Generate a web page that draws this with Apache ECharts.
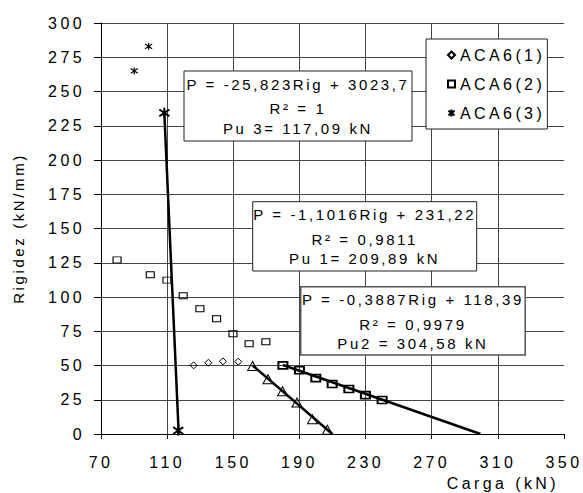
<!DOCTYPE html>
<html><head><meta charset="utf-8">
<script src="https://cdn.jsdelivr.net/npm/echarts@6/dist/echarts.min.js"></script>
<style>
html,body{margin:0;padding:0;background:#fff;}
#c{width:583px;height:493px;}
#c svg text[style*="16px"]{letter-spacing:3.4px;}
#c svg text[style*="15px"]{letter-spacing:2.6px;}
</style></head><body><div id="c"></div>
<script>
// ---- data ----
const xMin = 70, xMax = 350, xStep = 40;
const yMin = 0, yMax = 300, yStep = 25;

const aca1Carga = [126.0, 134.9, 143.7, 153.0];
const aca1Rig   = [50.1, 52.0, 53.0, 52.8];
const aca1TendCarga = [161.7, 171.0, 179.8, 188.5, 197.9, 206.9];
const aca1TendRig   = [49.6, 40.0, 31.2, 23.0, 10.7, 3.1];

const aca2Carga = [79.7, 99.8, 109.9, 119.7, 129.8, 139.9, 149.8, 159.6, 169.7];
const aca2Rig   = [127.1, 116.2, 112.3, 100.9, 91.4, 84.1, 73.2, 65.9, 67.3];
const aca2TendCarga = [180.0, 190.0, 199.9, 209.8, 219.9, 229.9, 240.0];
const aca2TendRig   = [50.1, 46.5, 40.8, 36.5, 32.8, 28.4, 24.8];

const aca3Carga = [90.1, 98.8];
const aca3Rig   = [265.0, 283.0];
const aca3TendCarga = [108.3, 116.7];
const aca3TendRig   = [234.4, 2.5];

const reta1Carga = [161.7, 209.89];
const reta1Rig   = [50.0, 0];
const reta2Carga = [180.0, 299.5];
const reta2Rig   = [50.4, 0];
const reta3Carga = [108.3, 117.0];
const reta3Rig   = [234.4, 0];

const seriesNames = ['ACA6(1)', 'ACA6(2)', 'ACA6(3)'];
const box3Lines = ['P = -25,823Rig + 3023,7', 'R² = 1', 'Pu 3= 117,09 kN'];
const box1Lines = ['P = -1,1016Rig + 231,22', 'R² = 0,9811', 'Pu 1= 209,89 kN'];
const box2Lines = ['P = -0,3887Rig + 118,39', 'R² = 0,9979', 'Pu2 = 304,58 kN'];
const xName = 'Carga (kN)';
const yName = 'Rigidez (kN/mm)';

// ---- helpers ----
const zip = (a, b) => a.map((v, i) => [v, b[i]]);
const FONT = 'Liberation Sans';
const ASTER = 'path://M5 0L5 10M0.6 1.6L9.4 8.4M0.6 8.4L9.4 1.6';
const clear = 'rgba(0,0,0,0)';

function boxGraphic(x, y, w, h, lines, stroke, lw) {
  const cx = x + w / 2;
  const offs = [13, 37.5, 57];
  const els = [{
    type: 'rect', z: 50,
    shape: { x: x, y: y, width: w, height: h },
    style: { fill: '#fff', stroke: stroke, lineWidth: lw }
  }];
  lines.forEach((t, i) => els.push({
    type: 'text', z: 51, x: cx, y: y + offs[i],
    style: { text: t, fill: '#000', fontSize: 15, fontFamily: FONT, align: 'center', verticalAlign: 'middle' }
  }));
  return els;
}

const chart = echarts.init(document.getElementById('c'), null, { renderer: 'svg' });
const option = {
  animation: false,
  backgroundColor: '#fff',
  grid: { left: 101, right: 19, top: 23, bottom: 59, containLabel: false, outerBoundsMode: 'none' },
  xAxis: {
    type: 'value', min: xMin, max: xMax, interval: xStep,
    name: xName, nameLocation: 'end', nameGap: -5, nameMoveOverlap: false,
    nameTextStyle: { fontSize: 16, fontFamily: FONT, color: '#000', align: 'right', verticalAlign: 'top', padding: [41, 0, 0, 0] },
    axisLine: { show: true, onZero: false, lineStyle: { color: '#000', width: 1 } },
    axisTick: { show: true, length: 5, lineStyle: { color: '#000' } },
    axisLabel: { fontSize: 16, fontFamily: FONT, color: '#000', margin: 20, interval: 0 },
    splitLine: { show: true, showMaxLine: false, lineStyle: { color: '#444', width: 1 } }
  },
  yAxis: {
    type: 'value', min: yMin, max: yMax, interval: yStep,
    name: yName, nameLocation: 'middle', nameGap: 75, nameMoveOverlap: false,
    nameTextStyle: { fontSize: 15, fontFamily: FONT, color: '#000' },
    axisLine: { show: true, onZero: false, lineStyle: { color: '#000', width: 1 } },
    axisTick: { show: true, length: 7, lineStyle: { color: '#000' } },
    axisLabel: { fontSize: 16, fontFamily: FONT, color: '#000', margin: 16 },
    splitLine: { show: true, lineStyle: { color: '#444', width: 1 } }
  },
  legend: {
    data: seriesNames, orient: 'vertical', left: 426, top: 39,
    padding: [8, 26, 8, 21], itemGap: 13, itemWidth: 7, itemHeight: 7,
    backgroundColor: '#fff', borderColor: '#222', borderWidth: 1,
    textStyle: { fontSize: 16, fontFamily: FONT, color: '#000', lineHeight: 16 },
    selectedMode: false, z: 60
  },
  graphic: [].concat(
    boxGraphic(184, 71, 228, 70, box3Lines, '#222', 1),
    boxGraphic(252.7, 201.7, 224, 69.3, box1Lines, '#222', 1),
    boxGraphic(300.7, 286.7, 224.5, 68.3, box2Lines, '#555', 1.5)
  ),
  series: [
    { name: 'Reta ACA6(1)', type: 'line', data: zip(reta1Carga, reta1Rig), symbol: 'none', z: 3,
      lineStyle: { color: '#000', width: 2.5 } },
    { name: 'Reta ACA6(2)', type: 'line', data: zip(reta2Carga, reta2Rig), symbol: 'none', z: 3,
      lineStyle: { color: '#000', width: 2.5 } },
    { name: 'Reta ACA6(3)', type: 'line', data: zip(reta3Carga, reta3Rig), symbol: 'none', z: 3,
      lineStyle: { color: '#000', width: 2.5 } },
    { name: seriesNames[0], type: 'scatter', data: zip(aca1Carga, aca1Rig), symbol: 'diamond', symbolSize: [7, 7], z: 4,
      itemStyle: { color: clear, borderColor: '#000', borderWidth: 1, opacity: 1 } },
    { name: seriesNames[1], type: 'scatter', data: zip(aca2Carga, aca2Rig), symbol: 'rect', symbolSize: [8, 6], z: 4,
      itemStyle: { color: clear, borderColor: '#000', borderWidth: 1, opacity: 1 } },
    { name: seriesNames[2], type: 'scatter', data: zip(aca3Carga, aca3Rig), symbol: ASTER, symbolSize: [7, 7], z: 4,
      itemStyle: { color: '#000', borderColor: '#000', borderWidth: 1.2, opacity: 1 } },
    { name: 'Tend ACA6(1)', type: 'scatter', data: zip(aca1TendCarga, aca1TendRig), symbol: 'triangle', symbolSize: [10, 9], z: 5,
      itemStyle: { color: clear, borderColor: '#000', borderWidth: 1, opacity: 1 } },
    { name: 'Tend ACA6(2)', type: 'scatter', data: zip(aca2TendCarga, aca2TendRig), symbol: 'rect', symbolSize: [9, 7], z: 5,
      itemStyle: { color: clear, borderColor: '#000', borderWidth: 1.8, opacity: 1 } },
    { name: 'Tend ACA6(3)', type: 'scatter', data: zip(aca3TendCarga, aca3TendRig), symbol: ASTER, symbolSize: [10, 10], z: 5,
      itemStyle: { color: '#000', borderColor: '#000', borderWidth: 2, opacity: 1 } }
  ]
};
chart.setOption(option);
</script></body></html>
